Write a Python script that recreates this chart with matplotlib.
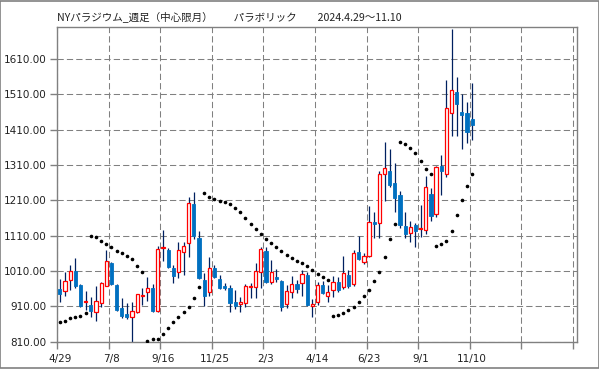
import matplotlib
matplotlib.use('Agg')
import matplotlib.pyplot as plt
from matplotlib.patches import Rectangle
import numpy as np

# weekly OHLC, NY palladium (front month), 2024/4/29 - 2025/11/10
opens = [959, 953, 984, 1010, 971, 922, 914, 895, 920, 969,
         1033, 971, 904, 888, 881, 893, 940, 950, 961, 898,
         1075, 1070, 1018, 1008, 1065, 1088, 1200, 1103, 985, 950,
         1018, 987, 968, 961, 921, 916, 919, 965, 966, 1006,
         1067, 980, 994, 982, 916, 952, 972, 975, 999, 910,
         921, 971, 939, 955, 978, 964, 999, 974, 1065, 1037,
         1053, 1149, 1147, 1286, 1292, 1259, 1226, 1138, 1117, 1141,
         1129, 1126, 1228, 1171, 1308, 1284, 1457, 1516, 1460, 1457,
         1440]
highs = [987, 1007, 1027, 1047, 972, 954, 936, 968, 980, 1070,
         1035, 973, 933, 919, 921, 945, 961, 992, 974, 1081,
         1125, 1075, 1028, 1092, 1092, 1219, 1233, 1122, 1004, 1051,
         1027, 999, 975, 970, 956, 937, 973, 975, 1032, 1079,
         1077, 1040, 1016, 985, 970, 995, 985, 1013, 1008, 930,
         980, 982, 971, 995, 994, 1053, 1013, 1070, 1108, 1060,
         1193, 1178, 1294, 1375, 1355, 1315, 1237, 1177, 1153, 1145,
         1197, 1278, 1245, 1306, 1339, 1551, 1696, 1558, 1511, 1488,
         1542]
lows = [921, 940, 956, 961, 908, 900, 881, 868, 909, 968,
        970, 898, 876, 874, 805, 890, 914, 925, 895, 895,
        1039, 1018, 977, 991, 1000, 1050, 1100, 988, 912, 938,
        990, 960, 955, 895, 903, 895, 909, 935, 933, 961,
        977, 974, 980, 898, 905, 933, 947, 940, 910, 881,
        915, 945, 921, 937, 952, 958, 963, 969, 1040, 1030,
        1050, 1103, 1103, 1207, 1247, 1178, 1133, 1103, 1093, 1079,
        1105, 1114, 1152, 1164, 1226, 1275, 1391, 1393, 1356, 1373,
        1381]
closes = [946, 981, 1009, 969, 910, 925, 897, 924, 977, 1038,
          973, 900, 884, 881, 897, 944, 942, 961, 897, 1072,
          1078, 1022, 997, 1069, 1082, 1202, 1108, 991, 940, 1018,
          993, 963, 961, 919, 910, 922, 967, 966, 1009, 1072,
          980, 1008, 988, 909, 954, 972, 960, 1002, 914, 916,
          971, 947, 950, 980, 957, 1004, 967, 1062, 1044, 1054,
          1150, 1143, 1284, 1303, 1254, 1218, 1141, 1116, 1135, 1122,
          1133, 1249, 1167, 1304, 1292, 1471, 1522, 1482, 1453, 1403,
          1424]
sar = [865, 870, 876, 879, 884, 891,
       1108, 1106, 1094, 1086, 1078, 1068, 1060, 1054, 1045, 1024, 1007,
       813, 816.5, 819, 832, 848, 865, 879, 895, 907, 933, 964,
       1232, 1221, 1215, 1209, 1205, 1200, 1188, 1177, 1160, 1144, 1129,
       1114, 1101, 1089, 1078, 1066, 1056, 1048, 1039, 1032, 1024, 1012,
       1003, 992, 985,
       882, 886, 891, 899, 907, 921, 939.5, 955.5, 983, 1008.5, 1049,
       1100, 1144.5,
       1375, 1369, 1358, 1343, 1321, 1300, 1284,
       1080, 1086, 1094, 1123, 1168, 1211.5, 1250, 1284]
date_labels = ['4/29', '7/8', '9/16', '11/25', '2/3', '4/14', '6/23', '9/1', '11/10']
y_ticks = [810, 910, 1010, 1110, 1210, 1310, 1410, 1510, 1610]

UP = '#FF0000'
DOWN = '#0070C0'
WICK = '#002060'
GRID = '#808080'

plt.rcParams['font.family'] = ['DejaVu Sans']

fig = plt.figure(figsize=(5.99, 3.69), dpi=100)
ax = fig.add_axes([57.3 / 599, 27.3 / 369, 520 / 599, 314.4 / 369])

o, h, l, c = (np.array(a, dtype=float) for a in (opens, highs, lows, closes))
x = np.arange(len(o)) + 0.5
up = c >= o

ax.vlines(x, l, h, color=WICK, lw=0.9, zorder=2)
bottom = np.minimum(o, c)
height = np.maximum(np.abs(c - o), 1.5)
ax.bar(x[up], height[up], bottom=bottom[up], width=0.62,
       facecolor='white', edgecolor=UP, lw=0.9, zorder=3)
ax.bar(x[~up], height[~up], bottom=bottom[~up], width=0.62,
       facecolor=DOWN, edgecolor=DOWN, lw=0.6, zorder=3)

ax.plot(x, sar, linestyle='none', marker='o', ms=1.6, color='black', zorder=4)

ax.set_xlim(0, 100.9)
ax.set_ylim(810, 1700)

ax.set_xticks(np.arange(0, 101, 10))
ax.set_xticklabels([])
ax.set_xticks(np.arange(len(date_labels)) * 10 + 0.5, minor=True)
ax.set_xticklabels(date_labels, minor=True)
ax.set_yticks(y_ticks)
ax.set_yticklabels([f'{v:.2f}' for v in y_ticks])

ax.tick_params(axis='x', which='major', length=5, color=GRID, width=1)
ax.tick_params(axis='x', which='minor', length=0, pad=9, labelsize=7.5, labelcolor='#222222')
ax.tick_params(axis='y', length=5, color=GRID, width=1, pad=3, labelsize=7.5, labelcolor='#222222')

ax.grid(True, which='major', color=GRID, linestyle=(0, (6, 3)), lw=0.75)
ax.set_axisbelow(True)
for s in ax.spines.values():
    s.set_color(GRID)
    s.set_linewidth(1)

fig.text(57 / 599, 1 - 17 / 369,
         'NYパラジウム_週足（中心限月）　　パラボリック　　2024.4.29～11.10',
         family=['Noto Sans CJK JP', 'DejaVu Sans'], fontsize=7.6,
         color='#222222', ha='left', va='center')

fig.patches.append(Rectangle((0.0008, 0.0014), 0.9984, 0.9972, transform=fig.transFigure,
                             fill=False, edgecolor=GRID, lw=1.2))

fig.savefig('out.png', dpi=100)
